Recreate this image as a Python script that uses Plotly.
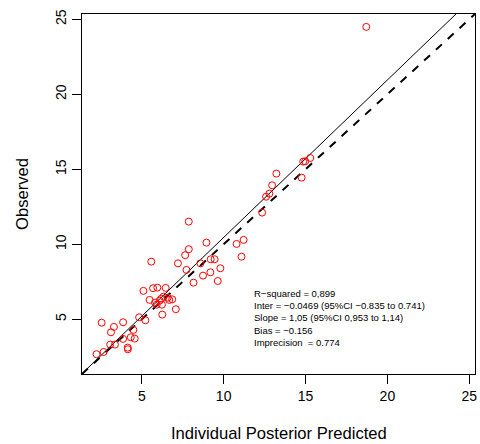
import plotly.graph_objects as go

# Data
predicted = [2.24, 2.67, 2.55, 3.12, 3.30, 3.07, 3.36, 3.86, 3.86, 4.14, 4.15, 4.33, 4.49, 4.57, 4.84, 5.22,
             5.10, 5.48, 5.58, 5.69, 5.95, 5.81, 5.91, 6.46, 6.25, 7.08, 6.09, 6.19, 6.33, 6.23, 6.58, 6.68, 6.86,
             7.21, 7.65, 7.87, 7.73, 7.87, 8.16, 8.58, 8.74, 8.95, 9.19, 9.21, 9.45, 9.64, 9.80,
             10.79, 11.22, 11.09,
             12.35, 12.59, 12.79, 12.96, 13.22, 14.76, 14.86, 14.98, 15.29, 18.71]
observed = [2.67, 2.82, 4.77, 4.13, 4.49, 3.31, 3.31, 4.80, 3.69, 3.11, 3.00, 3.80, 4.29, 3.71, 5.13, 4.93,
            6.89, 6.29, 8.84, 7.07, 7.11, 6.11, 5.97, 7.09, 5.31, 5.67, 6.24, 6.37, 6.51, 5.97, 6.44, 6.29, 6.33,
            8.73, 9.27, 9.67, 8.29, 11.51, 7.44, 8.73, 7.91, 10.11, 8.13, 9.00, 9.00, 7.55, 8.40,
            10.02, 10.29, 9.17,
            12.11, 13.17, 13.37, 13.93, 14.71, 14.44, 15.51, 15.53, 15.75, 24.49]

intercept = -0.0469
slope = 1.05
axis_range = [1.35, 25.35]
tick_values = [5, 10, 15, 20, 25]
stats_lines = [
    "R\u2212squared = 0,899",
    "Inter = \u22120.0469 (95%CI \u22120.835 to 0.741)",
    "Slope = 1,05 (95%CI 0,953 to 1,14)",
    "Bias = \u22120.156",
    "Imprecision\u00a0 = 0.774",
]

FONT = "Liberation Sans, Arial, Helvetica, sans-serif"

fig = go.Figure()

# identity line (dashed)
fig.add_trace(go.Scatter(
    x=axis_range, y=axis_range, mode="lines",
    line=dict(color="black", width=2, dash="8px,8px"),
    showlegend=False, hoverinfo="skip"))

# regression line (solid)
fig.add_trace(go.Scatter(
    x=axis_range, y=[intercept + slope * v for v in axis_range], mode="lines",
    line=dict(color="black", width=1),
    showlegend=False, hoverinfo="skip"))

fig.add_trace(go.Scatter(
    x=predicted, y=observed, mode="markers",
    marker=dict(symbol="circle-open", size=7, color="#ff0000", line=dict(width=1, color="#ff0000")),
    showlegend=False, cliponaxis=False))

axis_common = dict(
    range=axis_range, tickvals=tick_values, ticks="outside", ticklen=9, tickwidth=1,
    tickcolor="black", showline=True, linecolor="black", linewidth=1, mirror=True,
    showgrid=False, zeroline=False, tickfont=dict(family=FONT, size=14, color="black"),
)

fig.update_xaxes(**axis_common)
fig.update_yaxes(**axis_common, tickangle=-90)

annotations = []
line_y_top = 6.73
line_step = 0.82
for i, txt in enumerate(stats_lines):
    annotations.append(dict(
        x=11.72, y=line_y_top - i * line_step, xref="x", yref="y", text=txt,
        showarrow=False, xanchor="left", yanchor="middle",
        font=dict(family=FONT, size=9.5, color="black")))

annotations.append(dict(
    x=0.5, y=0, xref="paper", yref="paper", text="Individual Posterior Predicted",
    showarrow=False, xanchor="center", yanchor="middle", yshift=-59,
    font=dict(family=FONT, size=16.6, color="black")))
annotations.append(dict(
    x=0, y=0.5, xref="paper", yref="paper", text="Observed", textangle=-90,
    showarrow=False, xanchor="center", yanchor="middle", xshift=-60,
    font=dict(family=FONT, size=16.6, color="black")))

fig.update_layout(
    width=480, height=444,
    margin=dict(l=82, r=3, t=14, b=70),
    paper_bgcolor="white", plot_bgcolor="white",
    annotations=annotations,
    font=dict(family=FONT),
)

fig.write_html(
    "out.html",
    config={"displayModeBar": False},
    post_script="document.body.style.margin='0px';document.body.style.overflow='hidden';",
)
